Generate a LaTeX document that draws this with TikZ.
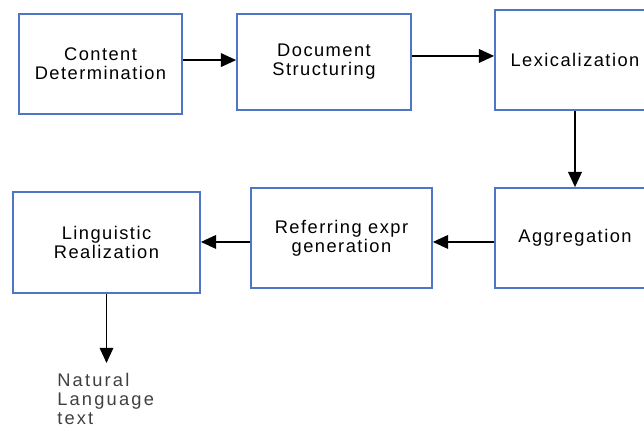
\documentclass[tikz,border=0pt]{standalone}
\usepackage{fontspec}
\setmainfont{Liberation Sans}
\usetikzlibrary{arrows.meta}
\definecolor{stageblue}{HTML}{4F76C4}
\definecolor{outgray}{HTML}{404040}
\newcommand\lbl{\fontsize{13}{13.5}\selectfont\addfontfeatures{LetterSpace=8}}

\begin{document}
\begin{tikzpicture}[x=0.025cm,y=-0.025cm,>={Triangle[length=3.8mm,width=3.4mm]},
  stage/.style={draw=stageblue,line width=1.2pt,align=center,inner sep=0pt,font=\lbl},
  flow/.style={->,line width=1.2pt}]
  \useasboundingbox (0,0) rectangle (644,430);
  % ---------------- top row ----------------
  \node[stage,minimum width=4.075cm,minimum height=2.5cm] (content) at (100.5,64)
    {Content\\Determination};
  \node[stage,minimum width=4.35cm,minimum height=2.4cm] (docstruct) at (324,62)
    {Document\\Structuring};
  \node[stage,minimum width=4.0cm,minimum height=2.5cm] (lexical) at (575,60)
    {Lexicalization};
  % ---------------- bottom row ----------------
  \node[stage,minimum width=4.0cm,minimum height=2.5cm] (aggreg) at (575,238)
    {Aggregation};
  \node[stage,minimum width=4.525cm,minimum height=2.5cm] (refexpr) at (341.5,238)
    {Referring expr\\generation};
  \node[stage,minimum width=4.675cm,minimum height=2.525cm] (lingreal) at (106.5,242.5)
    {Linguistic\\Realization};
  % output
  \node[anchor=north west,inner xsep=0pt,inner ysep=7pt,align=left,
    font=\lbl\addfontfeatures{LetterSpace=12},text=outgray] (nltext) at (57,363)
    {Natural\\Language\\text};
  % ---------------- connectors ----------------
  \draw[flow] ([yshift=2.8pt]content.east) -- ([yshift=2.8pt]content.east -| docstruct.west);
  \draw[flow] ([yshift=4.3pt]docstruct.east) -- ([yshift=4.3pt]docstruct.east -| lexical.west);
  \draw[flow] (lexical.south) -- (aggreg.north);
  \draw[flow] ([yshift=-2.8pt]aggreg.west) -- ([yshift=-2.8pt]aggreg.west -| refexpr.east);
  \draw[flow] ([yshift=-2.8pt]refexpr.west) -- ([yshift=-2.8pt]refexpr.west -| lingreal.east);
  \draw[flow] (lingreal.south) -- (lingreal.south |- nltext.north);
\end{tikzpicture}
\end{document}
